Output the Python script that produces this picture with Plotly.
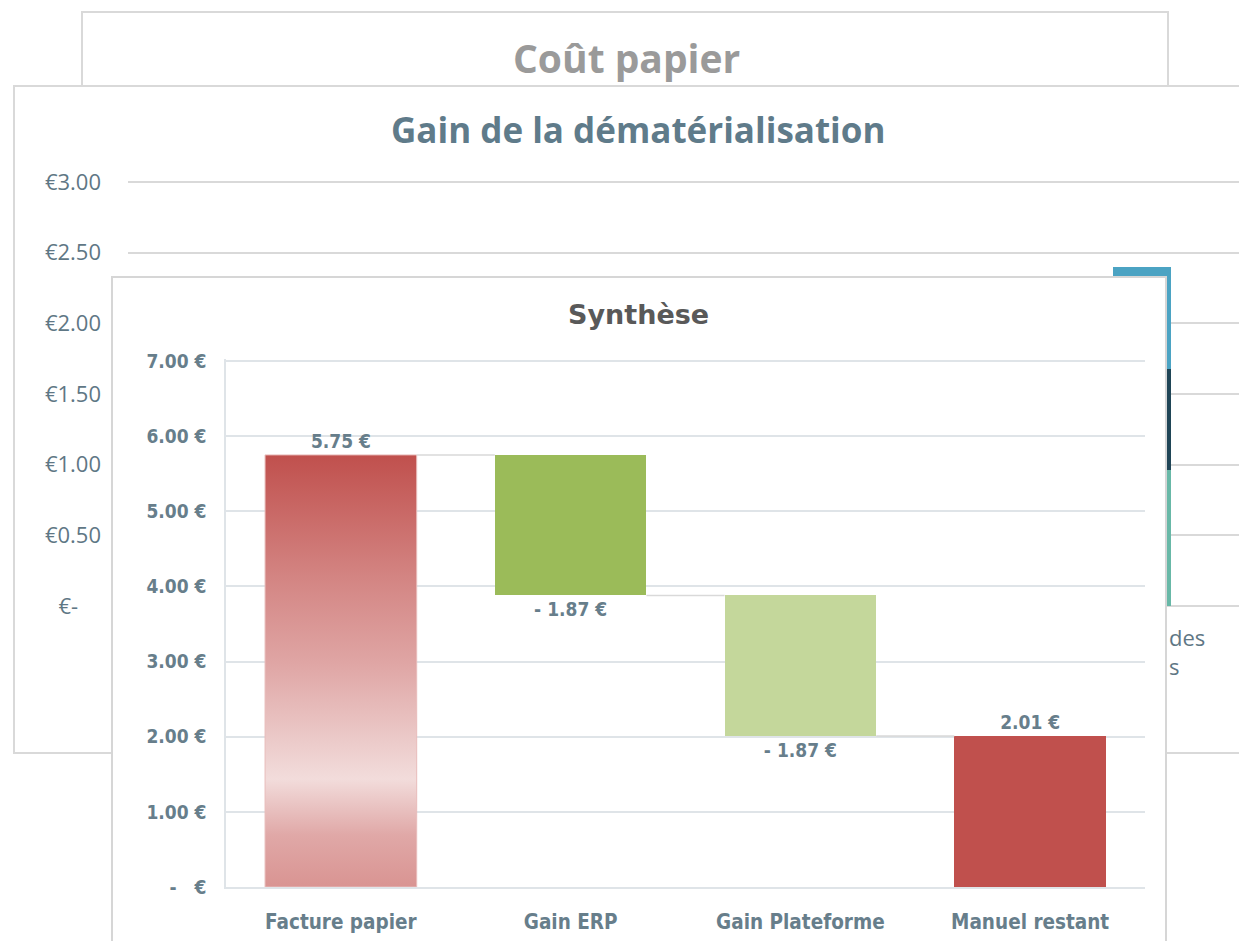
import plotly.graph_objects as go

# ---------------- data ----------------
# Front chart: "Synthèse" (waterfall)
synth_categories = ["Facture papier", "Gain ERP", "Gain Plateforme", "Manuel restant"]
synth_values = [5.75, -1.87, -1.87, 2.01]
synth_measures = ["absolute", "relative", "relative", "total"]
synth_tickvals = [0, 1, 2, 3, 4, 5, 6, 7]
synth_ticktext = ["-\u00a0\u00a0\u00a0€", "1.00 €", "2.00 €", "3.00 €", "4.00 €", "5.00 €", "6.00 €", "7.00 €"]

# Middle chart: "Gain de la dématérialisation" (stacked bar, partly hidden)
gain_positions = [0]
gain_series_names = ["Série 1", "Série 2", "Série 3"]
gain_series_values = [[0.96], [0.72], [0.72]]
gain_tickvals = [0, 0.5, 1.0, 1.5, 2.0, 2.5, 3.0]
gain_ticktext = ["€-\u00a0\u00a0\u00a0\u00a0", "€0.50", "€1.00", "€1.50", "€2.00", "€2.50", "€3.00"]
gain_label_fragment = "des<br>s"

# Titles
title_back = "Coût papier"
title_middle = "Gain de la dématérialisation"
title_front = "Synthèse"

# ---------------- geometry helpers ----------------
W, H = 1239, 941


def fx(px):
    return px / W


def fy(py):
    return 1 - py / H


# ---------------- derived waterfall values ----------------
bases, deltas, running = [], [], 0.0
for v, m in zip(synth_values, synth_measures):
    if m == "absolute":
        bases.append(0.0)
        deltas.append(v)
        running = v
    elif m == "relative":
        bases.append(running)
        deltas.append(v)
        running = running + v
    else:
        bases.append(0.0)
        deltas.append(running)


def fmt(v):
    if v < 0:
        return "- {:.2f} €".format(abs(v))
    return "{:.2f} €".format(v)


labels = [fmt(v) for v in synth_values]

LABEL_COLOR = "#5f7785"
FRONT_LABEL_COLOR = "#677e8b"
FRONT_FONT = "DejaVu Sans Condensed, DejaVu Sans, Verdana, sans-serif"
TITLE_FONT = "DejaVu Sans, Verdana, sans-serif"
MID_FONT = "Open Sans, sans-serif"
BW = 0.66

front_tick_font = dict(family=FRONT_FONT, size=19, color=FRONT_LABEL_COLOR, weight="bold")
front_cat_font = dict(family=FRONT_FONT, size=20.5, color=FRONT_LABEL_COLOR, weight="bold")

fig = go.Figure()

# ---- middle chart stacked bar (subplot xy) ----
mid_colors = ["#68b8a7", "#1f4556", "#4ba3c3"]
for name, vals, col in zip(gain_series_names, gain_series_values, mid_colors):
    fig.add_trace(go.Bar(x=gain_positions, y=vals, name=name, marker=dict(color=col, line=dict(width=0)),
                         width=0.6, xaxis="x", yaxis="y", hoverinfo="skip", showlegend=False))

# ---- front panel box (subplot x2y2, empty) ----
fig.add_trace(go.Scatter(x=[None], y=[None], xaxis="x2", yaxis="y2", mode="markers",
                         showlegend=False, hoverinfo="skip"))

# ---- front waterfall (subplot x3y3) ----
idx = list(range(len(synth_categories)))
bar_colors = ["rgba(0,0,0,0)", "#9bbb59", "#c4d79b", "#c0504d"]
fig.add_trace(go.Bar(x=idx, y=deltas, base=bases, width=BW,
                     marker=dict(color=bar_colors, line=dict(width=0)),
                     text=labels, textposition="outside", constraintext="none", cliponaxis=False,
                     textfont=front_tick_font,
                     xaxis="x3", yaxis="y3", hoverinfo="skip", showlegend=False))

# gradient fill for the first bar
g = 0
gx = [idx[g] - BW / 2, idx[g] + BW / 2, idx[g] + BW / 2, idx[g] - BW / 2, idx[g] - BW / 2]
gy = [bases[g], bases[g], bases[g] + deltas[g], bases[g] + deltas[g], bases[g]]
fig.add_trace(go.Scatter(
    x=gx, y=gy, mode="lines", fill="toself",
    line=dict(color="#e8bcbb", width=1),
    fillgradient=dict(type="vertical", start=bases[g], stop=bases[g] + deltas[g],
                      colorscale=[[0.0, "#d99492"], [0.12, "#e0a8a7"], [0.25, "#f2dcdb"],
                                  [0.36, "#eac6c5"], [0.52, "#dfa5a4"], [0.72, "#d38482"],
                                  [1.0, "#c0504d"]]),
    xaxis="x3", yaxis="y3", hoverinfo="skip", showlegend=False))

# connectors
cx, cy = [], []
level = 0.0
for i in range(len(idx) - 1):
    if synth_measures[i] == "absolute":
        level = synth_values[i]
    elif synth_measures[i] == "relative":
        level = level + synth_values[i]
    cx += [idx[i] + BW / 2, idx[i + 1] - BW / 2, None]
    cy += [level, level, None]
fig.add_trace(go.Scatter(x=cx, y=cy, mode="lines", line=dict(color="#d9d9d9", width=1.5),
                         xaxis="x3", yaxis="y3", hoverinfo="skip", showlegend=False))

# ---------------- layout ----------------
shapes = [
    # back panel "Coût papier"
    dict(type="rect", xref="paper", yref="paper", x0=fx(82), x1=fx(1168), y0=fy(86), y1=fy(12),
         line=dict(color="#d9d9d9", width=2), fillcolor="white", layer="below"),
    # middle panel
    dict(type="rect", xref="paper", yref="paper", x0=fx(14), x1=fx(1260), y0=fy(753), y1=fy(86),
         line=dict(color="#d9d9d9", width=2), fillcolor="white", layer="below"),
]

annotations = [
    dict(text="<b>" + title_back + "</b>", x=fx(626), y=fy(58), xref="paper", yref="paper",
         showarrow=False, xanchor="center", yanchor="middle",
         font=dict(family=MID_FONT, size=39, color="#9a9a9a")),
    dict(text="<b>" + title_middle + "</b>", x=fx(638), y=fy(129), xref="paper", yref="paper",
         showarrow=False, xanchor="center", yanchor="middle",
         font=dict(family=MID_FONT, size=35, color="#5f7b8a")),
    dict(text="<b>" + title_front + "</b>", x=fx(638), y=fy(314), xref="paper", yref="paper",
         showarrow=False, xanchor="center", yanchor="middle",
         font=dict(family=TITLE_FONT, size=27, color="#595959")),
    dict(text=gain_label_fragment, x=fx(1167), y=fy(651), xref="paper", yref="paper", showarrow=False,
         xanchor="left", yanchor="middle", align="left",
         font=dict(family=MID_FONT, size=22, color=LABEL_COLOR)),
]

# small pads so that the edge gridlines (top/bottom) get drawn
mid_pad = 0.01
mid_px_per_unit = (606 - 182) / 3.0
front_pad = 0.02
front_px_per_unit = (887 - 361) / 7.0

fig.update_layout(
    template="none",
    width=W, height=H, autosize=False,
    margin=dict(l=0, r=0, t=0, b=0, pad=0),
    paper_bgcolor="white", plot_bgcolor="white",
    barmode="stack", showlegend=False,
    shapes=shapes, annotations=annotations,
    # middle chart axes
    xaxis=dict(domain=[fx(128), 1.0], range=[-10.5, 1.0], showgrid=False, zeroline=False,
               showticklabels=False, showline=False, fixedrange=True, automargin=False),
    yaxis=dict(domain=[fy(606 + mid_pad * mid_px_per_unit), fy(182 - mid_pad * mid_px_per_unit)],
               range=[-mid_pad, 3 + mid_pad], tickvals=gain_tickvals, ticktext=gain_ticktext,
               showgrid=True, gridcolor="#d9d9d9", gridwidth=1.5, zeroline=False, showline=False,
               ticks="", ticklabelstandoff=26, automargin=False,
               tickfont=dict(family=MID_FONT, size=22, color=LABEL_COLOR), anchor="x"),
    # front panel box
    xaxis2=dict(domain=[fx(113), fx(1165)], range=[0, 1], showgrid=False, zeroline=False,
                showticklabels=False, showline=True, side="top", linecolor="#d6d6d6", linewidth=2,
                anchor="y2", automargin=False),
    yaxis2=dict(domain=[0, fy(278)], range=[0, 1], showgrid=False, zeroline=False,
                showticklabels=False, showline=True, mirror=True, linecolor="#d6d6d6", linewidth=2,
                anchor="x2", automargin=False),
    # front chart axes
    xaxis3=dict(domain=[fx(226), fx(1145)], range=[-0.5, 3.5], tickvals=idx, ticktext=synth_categories,
                showgrid=False, zeroline=False, showline=True, linecolor="#dfe4e8", linewidth=1.5,
                ticks="", ticklabelstandoff=16, automargin=False,
                tickfont=front_cat_font, anchor="y3"),
    yaxis3=dict(domain=[fy(887), fy(361 - front_pad * front_px_per_unit)], range=[0, 7 + front_pad],
                tickvals=synth_tickvals, ticktext=synth_ticktext,
                showgrid=True, gridcolor="#dfe4e8", gridwidth=1.5, zeroline=False,
                showline=True, linecolor="#dfe4e8", linewidth=1.5, ticks="", ticklabelstandoff=14,
                automargin=False, tickfont=front_tick_font, anchor="x3"),
)

fig.write_html("out.html", config={"displayModeBar": False},
               post_script="document.body.style.margin='0';document.body.style.padding='0';")
